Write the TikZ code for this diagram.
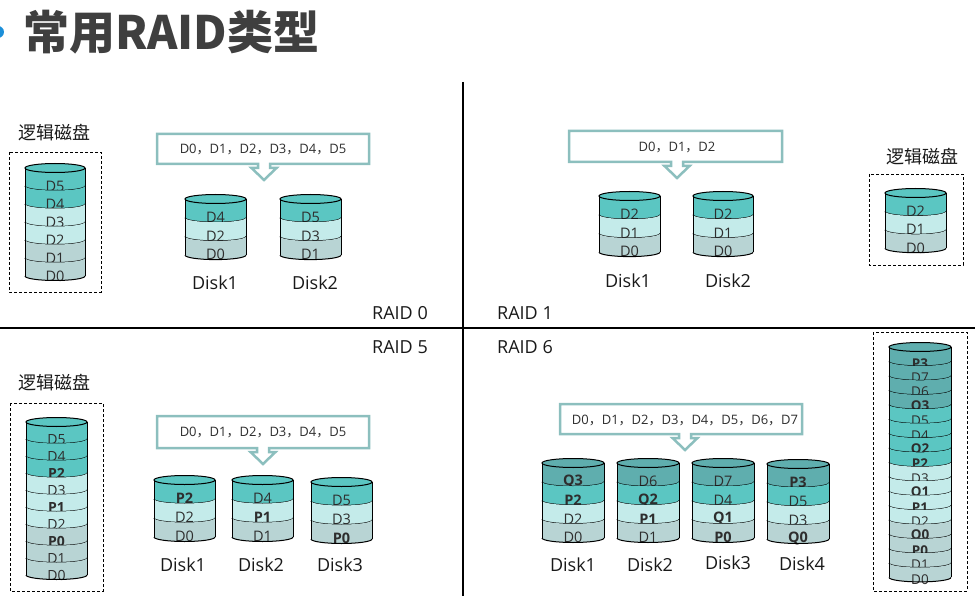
\documentclass[tikz,border=0pt]{standalone}
\usepackage{fontspec}
\setmainfont{Open Sans}
\newfontfamily\cjk{Noto Sans CJK SC}
\definecolor{cA}{HTML}{5FAEAE}
\definecolor{cB}{HTML}{5BC6C2}
\definecolor{cC}{HTML}{C4EBEA}
\definecolor{cD}{HTML}{B8D4D4}
\definecolor{callout}{HTML}{8CBFBE}
\definecolor{txt}{HTML}{2E2E2E}
\definecolor{titlec}{HTML}{3F3F3F}
\definecolor{dotc}{HTML}{1C8FD9}
\newcommand{\fs}[1]{\fontsize{#1}{#1}\selectfont}
\newcommand{\cm}{{\cjk ，}}
\tikzset{
  cyl/.style={line width=1pt, draw=black},
  seglab/.style={inner sep=0pt, text=txt},
  disklab/.style={inner sep=0pt, font=\fs{18}, text=black!90},
  raidlab/.style={inner sep=0pt, font=\fs{18}, text=black!90},
  loglab/.style={inner sep=0pt, font=\cjk\fs{18}, text=black!90},
  logbox/.style={draw=black, line width=0.9pt, dash pattern=on 3pt off 2pt},
  callbox/.style={draw=callout, line width=2.5pt, fill=white, line join=miter},
  calltext/.style={inner sep=0pt, font=\fs{13}, text=txt},
  divider/.style={draw=black, line width=1.2pt}
}
% #1 x, #2 width, #3 y top, #4 segment height, #5 font size, #6 name, #7 list
\newcommand{\drawcyl}[7]{%
  \pgfmathsetmacro\cylrx{#2/2}%
  \foreach \c/\t [count=\i] in {#7} {%
    \pgfmathsetmacro\ya{#3+(\i-1)*#4}%
    \pgfmathsetmacro\yb{#3+\i*#4}%
    \fill[\c] (#1,\ya) -- (#1,\yb) arc[start angle=180,end angle=360,x radius=\cylrx pt,y radius=4.5pt] -- (#1+#2,\ya) arc[start angle=0,end angle=-180,x radius=\cylrx pt,y radius=4.5pt] -- cycle;
    \node[seglab,font=\fs{#5}] (#6-\i) at (#1+\cylrx,\yb-#4/2+9) {\t};
    \draw[cyl] (#1,\yb) arc[start angle=180,end angle=360,x radius=\cylrx pt,y radius=4.5pt];
    \ifnum\i=1 \xdef\cyltop{\c}\fi
    \xdef\cylbot{\yb}%
  }%
  \draw[cyl] (#1,#3) -- (#1,\cylbot) (#1+#2,#3) -- (#1+#2,\cylbot);
  \draw[cyl,fill=\cyltop] (#1+\cylrx,#3) ellipse[x radius=\cylrx pt,y radius=4.5pt];
}
% #1 x1, #2 y1, #3 x2, #4 y2, #5 arrow centre x
\newcommand{\callbox}[5]{%
  \draw[callbox] (#1,#2) -- (#3,#2) -- (#3,#4) -- (#5+6,#4) -- (#5+6,#4+4) -- (#5+12.5,#4+4) -- (#5,#4+16) -- (#5-12.5,#4+4) -- (#5-6,#4+4) -- (#5-6,#4) -- (#1,#4) -- cycle;
}
\begin{document}
\begin{tikzpicture}[x=1pt,y=-1pt]
\useasboundingbox (0,0) rectangle (975,596);
\fill[dotc] (-2,32) circle (6pt);
\node[anchor=west, inner sep=0pt, text=titlec, font=\cjk\bfseries\fs{46}] (title) at (23,32) {常用RAID类型};
\draw[divider] (463,82) -- (463,596);
\draw[divider] (0,328) -- (975,328);
\node[raidlab, anchor=east] (raid0) at (428,313) {RAID 0};
\node[raidlab, anchor=west] (raid1) at (497,313) {RAID 1};
\node[raidlab, anchor=east] (raid5) at (428,347) {RAID 5};
\node[raidlab, anchor=west] (raid6) at (497,347) {RAID 6};

% ---- RAID 0
\node[loglab] (log0) at (55,133) {逻辑磁盘};
\draw[logbox] (9,152) rectangle (101,292);
\drawcyl{25}{60}{168}{18}{14.5}{l0}{cB/D5,cB/D4,cC/D3,cC/D2,cD/D1,cD/D0}
\callbox{157}{134}{369}{164}{264}
\node[calltext] (t0) at (263,149) {D0\cm D1\cm D2\cm D3\cm D4\cm D5};
\drawcyl{185}{61}{199}{18.7}{14.5}{r0a}{cB/D4,cC/D2,cD/D0}
\drawcyl{280}{61}{199}{18.7}{14.5}{r0b}{cB/D5,cC/D3,cD/D1}
\node[disklab] (r0d1) at (215,283) {Disk1};
\node[disklab] (r0d2) at (315,283) {Disk2};

% ---- RAID 1
\callbox{569}{131}{782}{162}{677}
\node[calltext] (t1) at (677,147) {D0\cm D1\cm D2};
\drawcyl{599}{61}{196}{18.7}{14.5}{r1a}{cB/D2,cC/D1,cD/D0}
\drawcyl{693}{60}{196}{18.7}{14.5}{r1b}{cB/D2,cC/D1,cD/D0}
\node[disklab] (r1d1) at (628,281) {Disk1};
\node[disklab] (r1d2) at (728,281) {Disk2};
\node[loglab] (log1) at (922,157) {逻辑磁盘};
\draw[logbox] (869,174) rectangle (963,265);
\drawcyl{885}{61}{193}{18.4}{14.5}{l1}{cB/D2,cC/D1,cD/D0}

% ---- RAID 5
\node[loglab] (log5) at (55,383) {逻辑磁盘};
\draw[logbox] (10,403) rectangle (103,591);
\drawcyl{26}{61}{422}{17}{14}{l5}{cB/D5,cB/D4,cB/\textbf{P2},cC/D3,cC/\textbf{P1},cC/D2,cD/\textbf{P0},cD/D1,cD/D0}
\callbox{157}{416}{369}{448}{263}
\node[calltext] (t5) at (263,432) {D0\cm D1\cm D2\cm D3\cm D4\cm D5};
\drawcyl{154}{61}{480}{19}{14.5}{r5a}{cB/\textbf{P2},cC/D2,cD/D0}
\drawcyl{232}{61}{480}{19}{14.5}{r5b}{cB/D4,cC/\textbf{P1},cD/D1}
\drawcyl{311}{61}{482}{19}{14.5}{r5c}{cB/D5,cC/D3,cD/\textbf{P0}}
\node[disklab] (r5d1) at (183,565) {Disk1};
\node[disklab] (r5d2) at (261,565) {Disk2};
\node[disklab] (r5d3) at (340,565) {Disk3};

% ---- RAID 6
\callbox{560}{404}{802}{434}{685}
\node[calltext] (t6) at (685,420) {D0\cm D1\cm D2\cm D3\cm D4\cm D5\cm D6\cm D7};
\drawcyl{542}{62}{463}{18.75}{14.5}{r6a}{cA/\textbf{Q3},cB/\textbf{P2},cC/D2,cD/D0}
\drawcyl{617}{62}{463}{18.75}{14.5}{r6b}{cA/D6,cB/\textbf{Q2},cC/\textbf{P1},cD/D1}
\drawcyl{692}{62}{463}{18.75}{14.5}{r6c}{cA/D7,cB/D4,cC/\textbf{Q1},cD/\textbf{P0}}
\drawcyl{767}{62}{464}{18.75}{14.5}{r6d}{cA/\textbf{P3},cB/D5,cC/D3,cD/\textbf{Q0}}
\node[disklab] (r6d1) at (573,565) {Disk1};
\node[disklab] (r6d2) at (650,565) {Disk2};
\node[disklab] (r6d3) at (728,563) {Disk3};
\node[disklab] (r6d4) at (802,564) {Disk4};
\draw[logbox] (873,332) rectangle (967,591);
\drawcyl{889}{62}{347}{14.4}{13.5}{l6}{cA/\textbf{P3},cA/D7,cA/D6,cA/\textbf{Q3},cB/D5,cB/D4,cB/\textbf{Q2},cB/\textbf{P2},cC/D3,cC/\textbf{Q1},cC/\textbf{P1},cC/D2,cD/\textbf{Q0},cD/\textbf{P0},cD/D1,cD/D0}
\end{tikzpicture}
\end{document}
